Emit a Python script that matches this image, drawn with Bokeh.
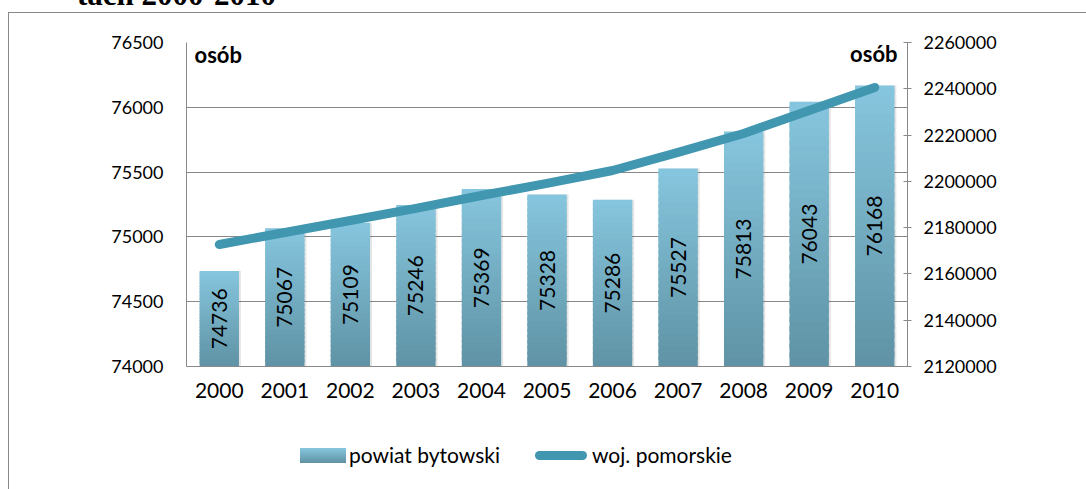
import math
from bokeh.plotting import figure
from bokeh.layouts import column
from bokeh.models import (ColumnDataSource, FactorRange, Range1d, LinearAxis, FixedTicker,
                          NumeralTickFormatter, Label, Div)
from bokeh.transform import dodge
from bokeh.core.properties import value
from bokeh.embed import file_html
from bokeh.resources import INLINE

# ---------------- data ----------------
years = ["2000", "2001", "2002", "2003", "2004", "2005", "2006", "2007", "2008", "2009", "2010"]
powiat_bytowski = [74736, 75067, 75109, 75246, 75369, 75328, 75286, 75527, 75813, 76043, 76168]
woj_pomorskie = [2172700, 2177900, 2183100, 2188300, 2193900, 2199100, 2204700,
                 2212500, 2220700, 2230600, 2240600]
left_ticks = [74000, 74500, 75000, 75500, 76000, 76500]
right_ticks = [2120000, 2140000, 2160000, 2180000, 2200000, 2220000, 2240000, 2260000]
series_names = ["powiat bytowski", "woj. pomorskie"]
unit_label = "osób"
title_text = "tach 2000-2010"

FONT = "Lato"
GRAY = "#898989"
BAR_BOTTOM = (0x5F, 0x92, 0xA4)
BAR_TOP = (0x86, 0xC6, 0xDE)
LINE_COLOR = "#4097AF"

W = 1086
y0, y1 = left_ticks[0], left_ticks[-1]

# ---------------- clipped title fragment ----------------
title_div = Div(
    text=('<div style="position:relative; top:-20px; left:77px; white-space:nowrap; '
          'font-family:\'Liberation Serif\'; font-weight:bold; font-size:31px; '
          'line-height:30px; color:black;">' + title_text + '</div>'),
    width=W, height=12, margin=0, styles={"overflow": "hidden"})

# ---------------- main chart ----------------
p = figure(width=W, height=418, x_range=FactorRange(*years), y_range=Range1d(y0, y1),
           output_backend="svg", toolbar_location=None, margin=0,
           min_border_left=186, min_border_right=179, min_border_top=30, min_border_bottom=64)
p.outline_line_color = None
p.background_fill_color = "white"
p.border_fill_color = None

# bar shadows
shadow_src = ColumnDataSource(dict(x=years, top=powiat_bytowski, bottom=[y0] * len(years)))
p.vbar(x=dodge("x", 0.03, range=p.x_range), top="top", bottom="bottom", width=0.6,
       source=shadow_src, fill_color="#000000", fill_alpha=0.10, line_color=None)

# gradient bars built from stacked slices of each bar
N = 30
xs, bs, ts, cs = [], [], [], []
for k in range(N):
    f = (k + 0.5) / N
    col = "#%02x%02x%02x" % tuple(int(round(a + (b - a) * f)) for a, b in zip(BAR_BOTTOM, BAR_TOP))
    for yr, v in zip(years, powiat_bytowski):
        h = v - y0
        xs.append(yr)
        bs.append(y0 + h * k / N)
        ts.append(min(v, y0 + h * (k + 1.6) / N))
        cs.append(col)
bar_src = ColumnDataSource(dict(x=xs, bottom=bs, top=ts, color=cs))
p.vbar(x="x", top="top", bottom="bottom", width=0.6, source=bar_src,
       fill_color="color", line_color=None)

# line on secondary axis
p.extra_y_ranges = {"right": Range1d(right_ticks[0], right_ticks[-1])}
line_src = ColumnDataSource(dict(x=years, y=woj_pomorskie))
p.line(x="x", y="y", source=line_src, y_range_name="right", line_width=9,
       line_color=LINE_COLOR, line_cap="round", line_join="round")

# value labels inside bars
lab_src = ColumnDataSource(dict(x=years, y=[(v + y0) / 2 for v in powiat_bytowski],
                                t=[str(v) for v in powiat_bytowski]))
p.text(x="x", y="y", text="t", source=lab_src, angle=math.pi / 2, text_align="center",
       text_baseline="middle", text_font=value(FONT), text_font_size="21px", text_color="black")

# axes
p.yaxis.ticker = FixedTicker(ticks=left_ticks)
p.yaxis.formatter = NumeralTickFormatter(format="0")
p.yaxis.major_tick_line_color = None
p.yaxis.minor_tick_line_color = None
p.yaxis.axis_line_color = GRAY
p.yaxis.major_label_standoff = 17
p.yaxis.major_label_text_font = FONT
p.yaxis.major_label_text_font_size = "18px"
p.yaxis.major_label_text_color = "black"

ra = LinearAxis(y_range_name="right", ticker=FixedTicker(ticks=right_ticks),
                formatter=NumeralTickFormatter(format="0"))
ra.axis_line_color = GRAY
ra.major_tick_line_color = GRAY
ra.major_tick_in = 4
ra.major_tick_out = 4
ra.minor_tick_line_color = None
ra.major_label_standoff = 12
ra.major_label_text_font = FONT
ra.major_label_text_font_size = "18px"
ra.major_label_text_color = "black"
p.add_layout(ra, "right")

p.xaxis.axis_line_color = GRAY
p.xaxis.major_tick_line_color = None
p.xaxis.minor_tick_line_color = None
p.xaxis.major_label_standoff = 10
p.xaxis.major_label_text_font = FONT
p.xaxis.major_label_text_font_size = "21px"
p.xaxis.major_label_text_color = "black"

p.xgrid.grid_line_color = None
p.ygrid.grid_line_color = GRAY
p.ygrid.ticker = FixedTicker(ticks=left_ticks)

# unit labels
p.add_layout(Label(x=0, y=y1, x_offset=8, y_offset=-12, text=unit_label, text_font=FONT,
                   text_font_style="bold", text_font_size="22px", text_baseline="alphabetic",
                   text_color="black"))
p.add_layout(Label(x=len(years), y=y1, x_offset=-10, y_offset=-11, text=unit_label, text_font=FONT,
                   text_font_style="bold", text_font_size="22px", text_baseline="alphabetic",
                   text_align="right", text_color="black"))

# ---------------- legend strip (HTML) ----------------
bar_grad = "linear-gradient(#%02x%02x%02x, #%02x%02x%02x)" % (BAR_TOP + BAR_BOTTOM)
legend_html = (
    '<div style="position:relative; width:%dpx; height:59px; font-family:Lato; font-size:21px; '
    'line-height:25px; color:black; white-space:nowrap;">' % W
    + '<div style="position:absolute; left:300px; top:18px; width:46px; height:15px; '
      'background:%s;"></div>' % bar_grad
    + '<div style="position:absolute; left:349px; top:12px;">%s</div>' % series_names[0]
    + '<div style="position:absolute; left:535px; top:21px; width:52px; height:9px; '
      'border-radius:4.5px; background:%s;"></div>' % LINE_COLOR
    + '<div style="position:absolute; left:592px; top:12px;">%s</div>' % series_names[1]
    + '</div>'
)
legend_div = Div(text=legend_html, width=W, height=59, margin=0)

layout = column(title_div, p, legend_div, spacing=0, styles={
    "background-color": "white",
    "background-image": "linear-gradient(#898989, #898989), linear-gradient(#898989, #898989)",
    "background-size": "1px 100%, 100% 1px",
    "background-position": "8px 12px, 8px 12px",
    "background-repeat": "no-repeat",
})

open("out.html", "w").write(file_html(layout, INLINE))
